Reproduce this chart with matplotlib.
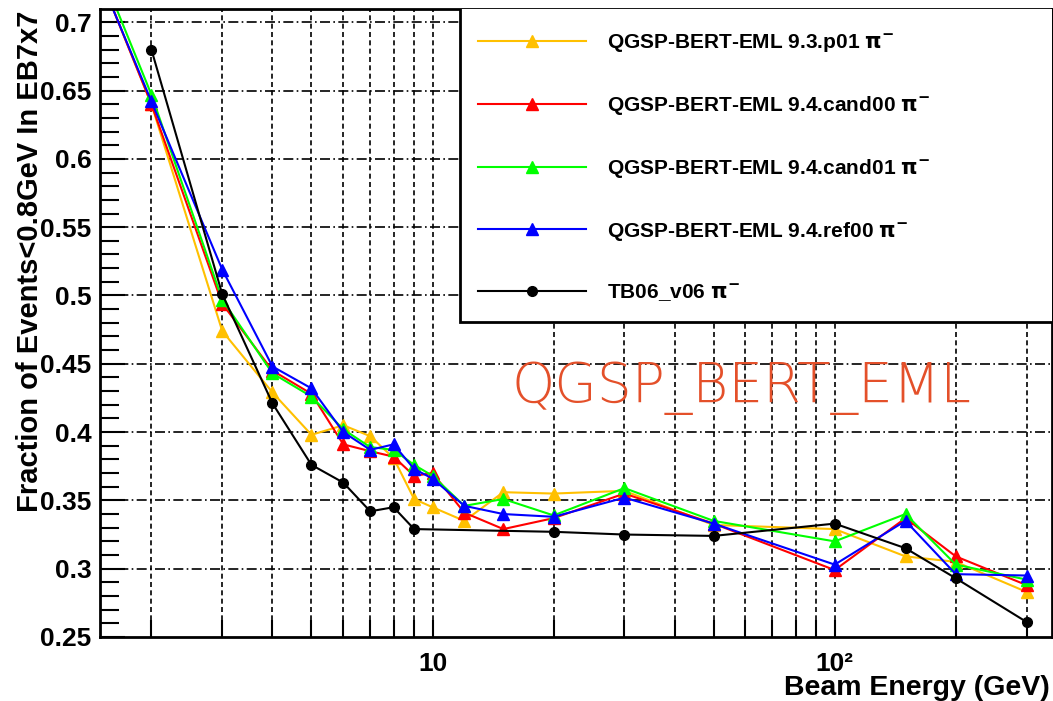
import matplotlib
matplotlib.use("Agg")
import matplotlib.pyplot as plt
from matplotlib.ticker import FixedLocator, FixedFormatter, MultipleLocator, NullFormatter
from matplotlib.patches import Rectangle

# beam energies (GeV)
e_mod = [1, 2, 3, 4, 5, 6, 7, 8, 9, 10, 12, 15, 20, 30, 50, 100, 150, 200, 300]
e_tb = [2, 3, 4, 5, 6, 7, 8, 9, 20, 30, 50, 100, 150, 200, 300]

f_93p01 = [0.86, 0.640, 0.474, 0.429, 0.398, 0.405, 0.397, 0.381, 0.351, 0.345,
           0.335, 0.356, 0.355, 0.357, 0.332, 0.329, 0.309, 0.305, 0.283]
f_cand00 = [0.86, 0.640, 0.494, 0.445, 0.428, 0.391, 0.386, 0.382, 0.368, 0.370,
            0.341, 0.329, 0.337, 0.355, 0.333, 0.299, 0.337, 0.309, 0.288]
f_cand01 = [0.865, 0.647, 0.497, 0.443, 0.426, 0.402, 0.389, 0.387, 0.376, 0.368,
            0.346, 0.351, 0.339, 0.359, 0.335, 0.320, 0.340, 0.303, 0.292]
f_ref00 = [0.855, 0.642, 0.519, 0.448, 0.432, 0.400, 0.387, 0.391, 0.373, 0.366,
           0.346, 0.340, 0.338, 0.352, 0.333, 0.303, 0.335, 0.296, 0.295]
f_tb06 = [0.680, 0.501, 0.421, 0.376, 0.363, 0.342, 0.345, 0.329, 0.327, 0.325,
          0.324, 0.333, 0.315, 0.293, 0.261]

labels = ["QGSP-BERT-EML 9.3.p01 $\\pi^{-}$",
          "QGSP-BERT-EML 9.4.cand00 $\\pi^{-}$",
          "QGSP-BERT-EML 9.4.cand01 $\\pi^{-}$",
          "QGSP-BERT-EML 9.4.ref00 $\\pi^{-}$",
          "TB06_v06 $\\pi^{-}$"]

plt.rcParams['font.family'] = ['Liberation Sans', 'DejaVu Sans']
plt.rcParams['font.weight'] = 'bold'
plt.rcParams['mathtext.default'] = 'bf'

fig = plt.figure(figsize=(10.53, 7.01), dpi=100)
ax = fig.add_axes([100/1053, 64/701, 952/1053, 628/701])

ax.plot(e_mod, f_93p01, color='#ffc000', marker='^', ms=8, lw=1.5, label=labels[0])
ax.plot(e_mod, f_cand00, color='#ff0000', marker='^', ms=8, lw=1.5, label=labels[1])
ax.plot(e_mod, f_cand01, color='#00ff00', marker='^', ms=8, lw=1.5, label=labels[2])
ax.plot(e_mod, f_ref00, color='#0000ff', marker='^', ms=8, lw=1.5, label=labels[3])
ax.plot(e_tb, f_tb06, color='black', marker='o', ms=7, lw=1.5, label=labels[4])

ax.set_xscale('log')
ax.set_xlim(1.49, 347)
ax.set_ylim(0.25, 0.7097)

ax.xaxis.set_major_locator(FixedLocator([10, 100]))
ax.xaxis.set_major_formatter(FixedFormatter(["10", "10²"]))
minors = [2, 3, 4, 5, 6, 7, 8, 9, 20, 30, 40, 50, 60, 70, 80, 90, 200, 300]
ax.xaxis.set_minor_locator(FixedLocator(minors))
ax.xaxis.set_minor_formatter(NullFormatter())
ax.yaxis.set_major_locator(MultipleLocator(0.05))
ax.yaxis.set_minor_locator(MultipleLocator(0.01))
ax.yaxis.set_major_formatter(plt.FuncFormatter(lambda v, p: ('%.2f' % v).rstrip('0')))

ax.tick_params(axis='y', which='major', direction='in', length=18, width=1.5,
               labelsize=19, pad=6)
ax.tick_params(axis='y', which='minor', direction='in', length=14, width=1.5)
ax.tick_params(axis='x', which='both', direction='in', length=12, width=1.5,
               labelsize=19, pad=11)

# grid
for v in [0.3, 0.35, 0.4, 0.45, 0.5, 0.55, 0.6, 0.65, 0.7]:
    ax.axhline(v, color='black', lw=1.2, ls=(0, (6, 2, 1, 2)), zorder=0.5)
for v in minors + [10, 100]:
    ax.axvline(v, color='black', lw=1.2, ls=(0, (3, 2)), zorder=0.5)

for s in ax.spines.values():
    s.set_linewidth(2)

ax.set_xlabel("Beam Energy (GeV)", fontsize=20.5, fontweight='bold', ha='right', va='center')
ax.xaxis.set_label_coords(0.998, -0.082)
ax.set_ylabel("Fraction of Events<0.8GeV In EB7x7", fontsize=21, fontweight='bold',
              ha='right', va='center')
ax.yaxis.set_label_coords(-0.074, 0.998)

# legend box
ax.add_patch(Rectangle(((460-100)/952, (637-322)/628), 1.0, 1.0, transform=ax.transAxes,
                       facecolor='white', edgecolor='black', lw=2, zorder=5, clip_on=True))
leg = ax.legend(loc='center left', bbox_to_anchor=((478-100)/952, (637-168)/628),
                frameon=False, prop={'size': 15, 'weight': 'bold'}, handlelength=5.2,
                handletextpad=1.0, labelspacing=1.9, borderpad=0, borderaxespad=0)
leg.set_zorder(6)

ax.text((512-100)/952, (637-388)/628, "QGSP_BERT_EML", transform=ax.transAxes,
        fontsize=39.5, family='DejaVu Sans', fontweight=200, color='#e4502a',
        va='center', ha='left')

fig.savefig("out.png", dpi=100)
